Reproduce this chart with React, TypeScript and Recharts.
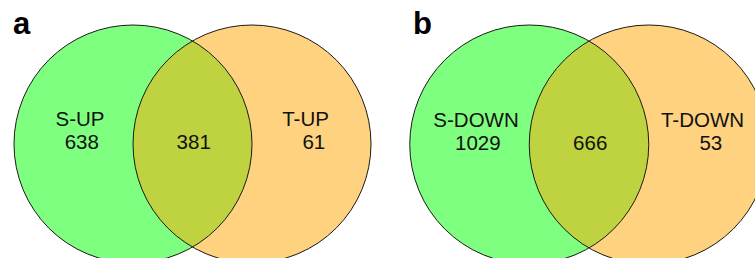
import { ScatterChart, Scatter, XAxis, YAxis } from 'recharts';

const upSets = ['S-UP', 'T-UP'];
const upCounts = [638, 381, 61]; // S only, both, T only
const downSets = ['S-DOWN', 'T-DOWN'];
const downCounts = [1029, 666, 53];
const panelLetters = ['a', 'b'];
const setColors = ['rgb(0,255,0)', 'rgb(255,165,0)'];

// layout in circle radii; the two centres sit one radius apart
const CIRCLE_X = [-0.5, 0.5];
const NAME_X = [-0.945, 0.95];
const COUNT_X = [-0.93, 0.01, 1.02];
const NAME_Y = 0.15;
const COUNT_Y = -0.045;

const H = 258;
const FONT = '"Liberation Sans", Arial, Helvetica, sans-serif';

interface PanelProps {
  sets: string[];
  counts: number[];
  letter: string;
  left: number;
  width: number;
  mid: number;
  cy: number;
  r: number;
}

function VennPanel({ sets, counts, letter, left, width, mid, cy, r }: PanelProps) {
  const xDomain = [-mid / r, (width - mid) / r];
  const yDomain = [-(H - cy) / r, cy / r];
  const radius = width / (xDomain[1] - xDomain[0]);

  const circles = sets.map((name, i) => ({ x: CIRCLE_X[i], y: 0, name, color: setColors[i] }));
  const labels = [
    { x: NAME_X[0], y: NAME_Y, text: sets[0] },
    { x: COUNT_X[0], y: COUNT_Y, text: String(counts[0]) },
    { x: COUNT_X[1], y: COUNT_Y, text: String(counts[1]) },
    { x: NAME_X[1], y: NAME_Y, text: sets[1] },
    { x: COUNT_X[2], y: COUNT_Y, text: String(counts[2]) },
  ];

  return (
    <div style={{ position: 'absolute', left, top: 0, width, height: H }}>
      <ScatterChart width={width} height={H} margin={{ top: 0, right: 0, bottom: 0, left: 0 }}>
        <XAxis type="number" dataKey="x" domain={xDomain} hide />
        <YAxis type="number" dataKey="y" domain={yDomain} hide />
        <Scatter
          data={circles}
          isAnimationActive={false}
          shape={(p: any) => <circle cx={p.cx} cy={p.cy} r={radius} fill={p.payload.color} fillOpacity={0.5} stroke="none" />}
        />
        <Scatter
          data={circles}
          isAnimationActive={false}
          shape={(p: any) => <circle cx={p.cx} cy={p.cy} r={radius} fill="none" stroke="#1a1a1a" strokeWidth={1} />}
        />
        <Scatter
          data={labels}
          isAnimationActive={false}
          shape={(p: any) => (
            <text x={p.cx} y={p.cy} textAnchor="middle" fontFamily={FONT} fontSize={20.5} fill="#111">
              {p.payload.text}
            </text>
          )}
        />
      </ScatterChart>
      <svg width={60} height={50} style={{ position: 'absolute', left: 0, top: 0, pointerEvents: 'none' }}>
        <text x={letter === 'a' ? 13 : 413 - left} y={34} fontFamily={FONT} fontWeight="bold" fontSize={31} fill="#000">
          {letter}
        </text>
      </svg>
    </div>
  );
}

export default function App() {
  return (
    <div style={{ position: 'absolute', left: 0, top: 0, width: 755, height: H, overflow: 'hidden', background: '#fff' }}>
      <VennPanel sets={upSets} counts={upCounts} letter={panelLetters[0]} left={0} width={388} mid={192.5} cy={144} r={119} />
      <VennPanel sets={downSets} counts={downCounts} letter={panelLetters[1]} left={388} width={367} mid={201} cy={144.5} r={119.5} />
    </div>
  );
}
